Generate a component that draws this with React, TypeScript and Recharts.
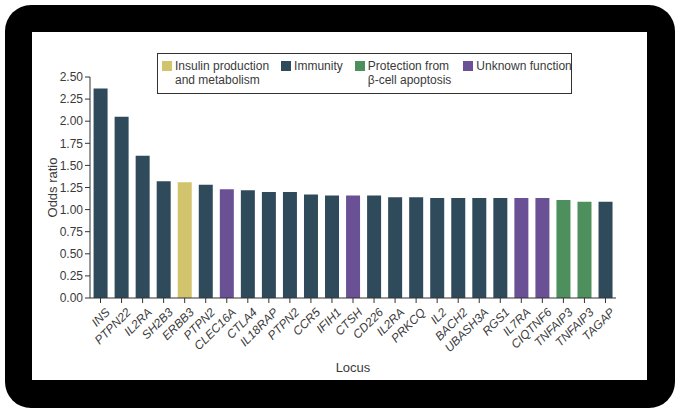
import React from 'react';
import { BarChart, Bar, XAxis, YAxis, Legend, Cell } from 'recharts';

// type 1 diabetes loci, sorted by odds ratio
const loci = [
    'INS', 'PTPN22', 'IL2RA', 'SH2B3', 'ERBB3', 'PTPN2', 'CLEC16A', 'CTLA4', 'IL18RAP',
    'PTPN2', 'CCR5', 'IFIH1', 'CTSH', 'CD226', 'IL2RA', 'PRKCQ', 'IL2', 'BACH2',
    'UBASH3A', 'RGS1', 'IL7RA', 'CIQTNF6', 'TNFAIP3', 'TNFAIP3', 'TAGAP',
];
const oddsRatios = [
    2.37, 2.05, 1.61, 1.32, 1.31, 1.28, 1.23, 1.22, 1.2, 1.2, 1.17, 1.16, 1.16,
    1.16, 1.14, 1.14, 1.13, 1.13, 1.13, 1.13, 1.13, 1.13, 1.11, 1.09, 1.09,
];
const lociFunction = [
    'immunity', 'immunity', 'immunity', 'immunity', 'insulin', 'immunity', 'unknown',
    'immunity', 'immunity', 'immunity', 'immunity', 'immunity', 'unknown', 'immunity',
    'immunity', 'immunity', 'immunity', 'immunity', 'immunity', 'immunity', 'unknown',
    'unknown', 'protection', 'protection', 'immunity',
];
const yTicks = [0, 0.25, 0.5, 0.75, 1, 1.25, 1.5, 1.75, 2, 2.25, 2.5];

const legendKeys = ['insulin', 'immunity', 'protection', 'unknown'];
const legendLabels = [
    ['Insulin production', 'and metabolism'],
    ['Immunity'],
    ['Protection from', 'β-cell apoptosis'],
    ['Unknown function'],
];

const colors: Record<string, string> = {
    insulin: '#d2c46c',
    immunity: '#2f4a5b',
    protection: '#4e8f5e',
    unknown: '#6a5196',
};

const FONT = "'Liberation Sans', Arial, sans-serif";
const TEXT = '#3a3a3a';

const data = loci.map((locus, i) => ({
    locus,
    oddsRatio: oddsRatios[i],
    fn: lociFunction[i],
}));

const LocusTick = (props: any) => {
    const { x, y, payload } = props;
    return (
        <g transform={`translate(${x + 4},${y + 2})`}>
            <text
                x={0}
                y={0}
                dy="0.71em"
                textAnchor="end"
                transform="rotate(-45)"
                style={{ fontFamily: FONT }}
                fontSize={12}
                fontStyle="italic"
                fill={TEXT}
            >
                {payload.value}
            </text>
        </g>
    );
};

const FunctionLegend = () => (
    <div
        style={{
            border: '1px solid #333',
            boxSizing: 'border-box',
            height: 41,
            display: 'flex',
            gap: 12,
            padding: '5px 0 0 4px',
            fontFamily: FONT,
            fontSize: 12,
            lineHeight: '14px',
            color: TEXT,
            background: '#fff',
            whiteSpace: 'nowrap',
        }}
    >
        {legendKeys.map((key, i) => (
            <div key={key} style={{ display: 'flex', alignItems: 'flex-start', flex: 'none' }}>
                <span
                    style={{
                        width: 10,
                        height: 10,
                        marginTop: 2,
                        marginRight: 3,
                        background: colors[key],
                        flex: 'none',
                    }}
                />
                <span>
                    {legendLabels[i].map(line => (
                        <div key={line}>{line}</div>
                    ))}
                </span>
            </div>
        ))}
    </div>
);

const App: React.FC = () => {
    return (
        <div style={{ position: 'fixed', left: 0, top: 0, width: 678, height: 413, background: '#fff', fontFamily: FONT }}>
            <div
                style={{
                    position: 'absolute',
                    left: 5,
                    top: 5,
                    width: 670,
                    height: 403,
                    background: '#000',
                    borderRadius: 26,
                }}
            />
            <div style={{ position: 'absolute', left: 32, top: 32, width: 615, height: 348, background: '#fff' }}>
                <BarChart
                    width={615}
                    height={348}
                    data={data}
                    margin={{ top: 45, right: 31, left: 8, bottom: 5 }}
                    barCategoryGap="17%"
                    style={{ fontFamily: FONT }}
                >
                    <XAxis
                        dataKey="locus"
                        interval={0}
                        height={77}
                        tick={<LocusTick />}
                        tickSize={5}
                        axisLine={{ stroke: '#333' }}
                        tickLine={{ stroke: '#333' }}
                        label={{ value: 'Locus', position: 'insideBottom', offset: 3, fill: TEXT, fontSize: 13 }}
                    />
                    <YAxis
                        width={50}
                        domain={[0, 2.5]}
                        ticks={yTicks}
                        interval={0}
                        tickFormatter={(v: number) => v.toFixed(2)}
                        tick={{ fill: TEXT, fontSize: 12 }}
                        tickSize={5}
                        axisLine={{ stroke: '#333' }}
                        tickLine={{ stroke: '#333' }}
                        label={{ value: 'Odds ratio', angle: -90, position: 'center', dx: -13, fill: TEXT, fontSize: 13 }}
                    />
                    <Legend
                        layout="horizontal"
                        verticalAlign="middle"
                        align="center"
                        content={() => <FunctionLegend />}
                        wrapperStyle={{ position: 'absolute', left: 125, top: 21, width: 415, height: 41 }}
                    />
                    <Bar dataKey="oddsRatio" isAnimationActive={false}>
                        {data.map((d, i) => (
                            <Cell key={i} fill={colors[d.fn]} />
                        ))}
                    </Bar>
                </BarChart>
            </div>
        </div>
    );
};

export default App;
